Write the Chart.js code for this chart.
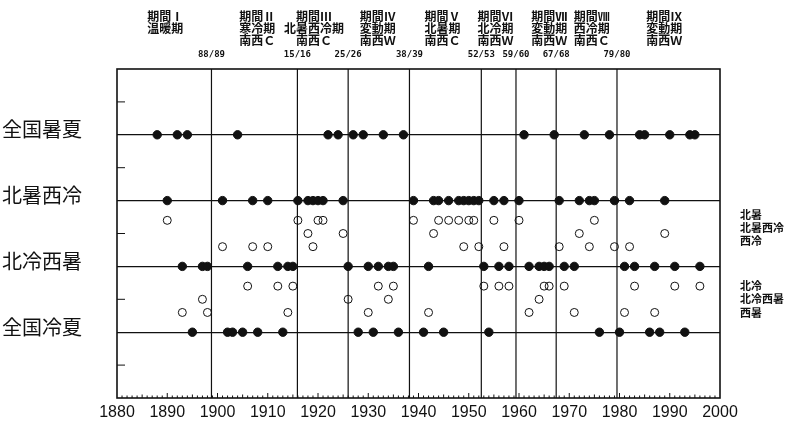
<!DOCTYPE html>
<html lang="ja">
<head>
<meta charset="utf-8">
<title>夏の天候型の年代変化</title>
<script src="https://cdn.jsdelivr.net/npm/chart.js@4.4.1/dist/chart.umd.min.js"></script>
<style>
  html, body { margin: 0; padding: 0; background: #fff; }
  #chart { display: block; }
</style>
</head>
<body>
<canvas id="chart" width="800" height="428"></canvas>
<script>
// Summer types on the y axis, bottom line = 0
const summerTypes = ['全国冷夏', '北冷西暑', '北暑西冷', '全国暑夏'];

// Filled dots: years on each main line
const yearsHotAll = [1888, 1892, 1894, 1904, 1922, 1924, 1927, 1929, 1933, 1937,
    1961, 1967, 1973, 1978, 1984, 1985, 1990, 1994, 1995];
const yearsNorthHot = [1890, 1901, 1907, 1910, 1916, 1918, 1919, 1920, 1921, 1925,
    1939, 1943, 1944, 1946, 1948, 1949, 1950, 1951, 1952, 1955, 1957, 1960,
    1968, 1972, 1974, 1975, 1979, 1982, 1989];
const yearsNorthCool = [1893, 1897, 1898, 1906, 1912, 1914, 1915, 1926, 1930, 1932,
    1934, 1935, 1942, 1953, 1956, 1958, 1962, 1964, 1965, 1966, 1969, 1971,
    1981, 1983, 1987, 1991, 1996];
const yearsCoolAll = [1895, 1902, 1903, 1905, 1908, 1913, 1928, 1931, 1936, 1941,
    1945, 1954, 1976, 1980, 1986, 1988, 1993];

// Open circles: sub-types between the main lines
const subLevels = [1.7, 1.5, 1.3, 0.7, 0.5, 0.3];
const subLabels = ['北暑', '北暑西冷', '西冷', '北冷', '北冷西暑', '西暑'];
const subYears = [
    [1890, 1916, 1920, 1921, 1939, 1944, 1946, 1948, 1950, 1951, 1955, 1960, 1975],
    [1918, 1925, 1943, 1972, 1989],
    [1901, 1907, 1910, 1919, 1949, 1952, 1957, 1968, 1974, 1979, 1982],
    [1906, 1912, 1915, 1932, 1935, 1953, 1956, 1958, 1965, 1966, 1969, 1983, 1991, 1996],
    [1897, 1926, 1934, 1964],
    [1893, 1898, 1914, 1930, 1942, 1962, 1971, 1981, 1987]
];

// Period boundaries (vertical lines) and the period captions
const boundaryYears = [1898.8, 1915.9, 1926, 1938.2, 1952.5, 1959.4, 1967.4, 1979.5];
const boundaryLabels = ['88/89', '15/16', '25/26', '38/39', '52/53', '59/60', '67/68', '79/80'];
const periodCenters = [1889.6, 1907.9, 1919.2, 1931.9, 1944.8, 1955.3, 1966, 1974.5, 1988.9];
const periodLabels = [
    ['期間Ⅰ', '温暖期'],
    ['期間Ⅱ', '寒冷期', '南西Ｃ'],
    ['期間Ⅲ', '北暑西冷期', '南西Ｃ'],
    ['期間Ⅳ', '変動期', '南西Ｗ'],
    ['期間Ⅴ', '北暑期', '南西Ｃ'],
    ['期間Ⅵ', '北冷期', '南西Ｗ'],
    ['期間Ⅶ', '変動期', '南西Ｗ'],
    ['期間Ⅷ', '西冷期', '南西Ｃ'],
    ['期間Ⅸ', '変動期', '南西Ｗ']
];

const INK = '#111';
const JP = '"Noto Sans CJK JP", sans-serif';

const mainYears = [yearsCoolAll, yearsNorthCool, yearsNorthHot, yearsHotAll];
const filledPoints = [];
mainYears.forEach((list, level) => {
    list.forEach(yr => filledPoints.push({ x: yr, y: level }));
});
const openPoints = [];
subYears.forEach((list, i) => {
    list.forEach(yr => openPoints.push({ x: yr, y: subLevels[i] }));
});

// Lines, inward ticks, frame and all the extra captions
const framePlugin = {
    id: 'framePlugin',
    beforeDatasetsDraw(chart) {
        const { ctx, chartArea: a, scales: { x, y } } = chart;
        ctx.save();
        ctx.strokeStyle = INK;

        // period boundaries
        ctx.lineWidth = 1.2;
        boundaryYears.forEach(v => {
            const px = x.getPixelForValue(v);
            ctx.beginPath();
            ctx.moveTo(px, a.top);
            ctx.lineTo(px, a.bottom);
            ctx.stroke();
        });

        // short ticks inside the left axis at the half steps
        ctx.lineWidth = 1;
        for (let v = -0.5; v < 4; v += 1) {
            const py = y.getPixelForValue(v);
            ctx.beginPath();
            ctx.moveTo(a.left, py);
            ctx.lineTo(a.left + 8, py);
            ctx.stroke();
        }

        // year ticks along the bottom
        for (let yr = 1881; yr < 2000; yr++) {
            const px = x.getPixelForValue(yr);
            const len = yr % 10 === 0 ? 5 : (yr % 5 === 0 ? 3.5 : 2.5);
            ctx.beginPath();
            ctx.moveTo(px, a.bottom);
            ctx.lineTo(px, a.bottom - len);
            ctx.stroke();
        }

        // frame
        ctx.lineWidth = 1.6;
        ctx.strokeRect(a.left, a.top, a.width, a.height);
        ctx.restore();
    },
    afterDraw(chart) {
        const { ctx, chartArea: a, scales: { x, y } } = chart;
        ctx.save();
        ctx.fillStyle = INK;
        ctx.textBaseline = 'middle';
        ctx.textAlign = 'center';

        // period captions above the plot
        ctx.font = 'bold 12px ' + JP;
        periodLabels.forEach((lines, i) => {
            const px = x.getPixelForValue(periodCenters[i]);
            lines.forEach((t, k) => ctx.fillText(t, px, a.top - 53 + k * 12));
        });

        // boundary years
        ctx.font = 'bold 9px "DejaVu Sans Mono", monospace';
        boundaryLabels.forEach((t, i) => {
            ctx.fillText(t, x.getPixelForValue(boundaryYears[i]), a.top - 14);
        });

        // sub-type names on the right
        ctx.textAlign = 'left';
        ctx.font = 'bold 11px ' + JP;
        subLabels.forEach((t, i) => {
            const lift = subLevels[i] > 1 ? -6 : 0;
            ctx.fillText(t, a.right + 20, y.getPixelForValue(subLevels[i]) + lift);
        });
        ctx.restore();
    }
};

const ctx = document.getElementById('chart').getContext('2d');
const chart = new Chart(ctx, {
    type: 'scatter',
    data: {
        datasets: [
            {
                label: '天候型',
                data: filledPoints,
                pointRadius: 4.2,
                pointBorderWidth: 1,
                pointBackgroundColor: INK,
                pointBorderColor: INK
            },
            {
                label: '細分',
                data: openPoints,
                pointRadius: 4,
                pointBorderWidth: 1,
                pointBackgroundColor: 'rgba(0,0,0,0)',
                pointBorderColor: INK
            }
        ]
    },
    options: {
        responsive: false,
        animation: false,
        devicePixelRatio: 1,
        layout: { padding: { top: 69, right: 80, bottom: 0, left: 0 } },
        plugins: {
            legend: { display: false },
            tooltip: { enabled: false }
        },
        scales: {
            x: {
                type: 'linear',
                min: 1880,
                max: 2000,
                grid: { display: false, drawTicks: false },
                border: { display: false },
                ticks: {
                    stepSize: 10,
                    autoSkip: false,
                    maxRotation: 0,
                    padding: 5,
                    color: INK,
                    font: { family: '"Liberation Sans", Arial, sans-serif', size: 16 },
                    callback: v => String(v)
                },
                afterFit: s => {
                    s.height = 30;
                    s.paddingLeft = 0;
                    s.paddingRight = 0;
                }
            },
            y: {
                type: 'linear',
                min: -1,
                max: 4,
                grid: {
                    drawTicks: false,
                    lineWidth: 1.2,
                    color: c => {
                        const v = c.tick.value;
                        return (Number.isInteger(v) && v >= 0 && v <= 3) ? INK : 'rgba(0,0,0,0)';
                    }
                },
                border: { display: false },
                ticks: {
                    stepSize: 0.5,
                    autoSkip: false,
                    padding: 35,
                    labelOffset: -5,
                    color: INK,
                    font: { family: JP, size: 20 },
                    callback: v => (Number.isInteger(v) && summerTypes[v]) ? summerTypes[v] : ''
                },
                afterFit: s => {
                    s.width = 117;
                    s.paddingTop = 0;
                    s.paddingBottom = 0;
                }
            }
        }
    },
    plugins: [framePlugin]
});
</script>
</body>
</html>
